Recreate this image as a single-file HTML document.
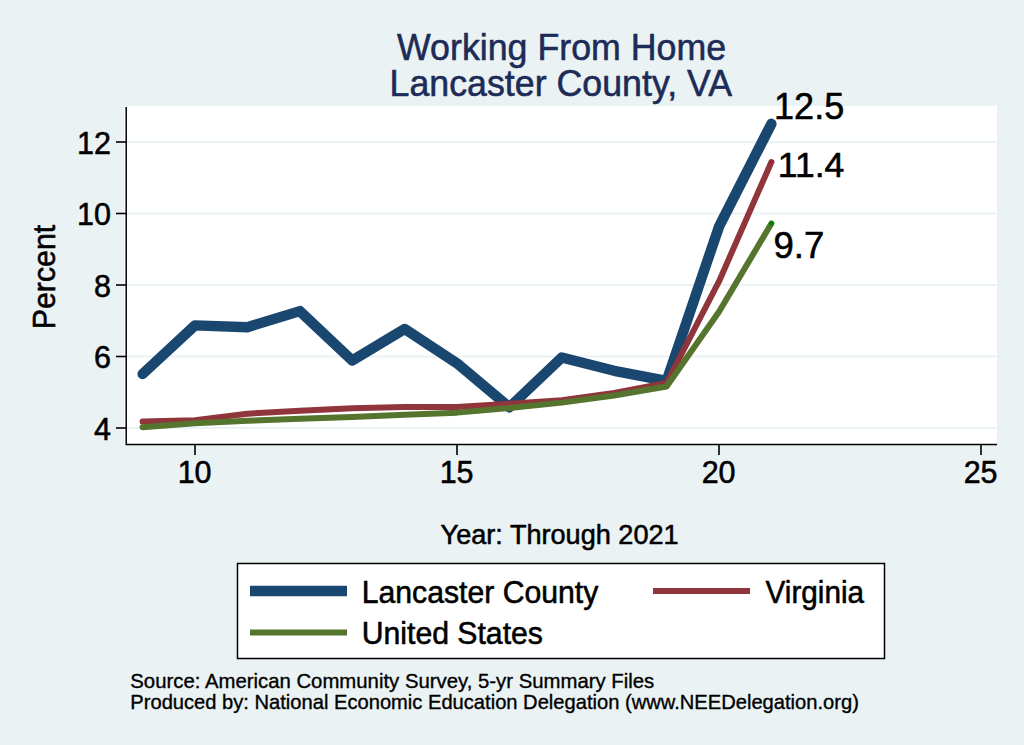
<!DOCTYPE html>
<html><head><meta charset="utf-8"><style>
html,body{margin:0;padding:0;background:#eaf2f3;}
svg{display:block;font-family:"Liberation Sans", sans-serif;}
text{stroke-linejoin:round;}
</style></head><body>
<svg width="1024" height="745" viewBox="0 0 1024 745">
<rect x="0" y="0" width="1024" height="745" fill="#eaf2f3"/>
<rect x="124" y="106" width="873" height="339" fill="#fff"/>
<line x1="127" y1="428.00" x2="997" y2="428.00" stroke="#eaf2f3" stroke-width="2"/>
<line x1="127" y1="356.50" x2="997" y2="356.50" stroke="#eaf2f3" stroke-width="2"/>
<line x1="127" y1="285.00" x2="997" y2="285.00" stroke="#eaf2f3" stroke-width="2"/>
<line x1="127" y1="213.50" x2="997" y2="213.50" stroke="#eaf2f3" stroke-width="2"/>
<line x1="127" y1="142.00" x2="997" y2="142.00" stroke="#eaf2f3" stroke-width="2"/>
<g fill="none" stroke-linecap="round" stroke-linejoin="round">
<polyline points="142.60,374.02 195.00,325.40 247.40,327.19 299.80,311.10 352.20,360.43 404.60,328.97 457.00,363.29 509.40,407.26 561.80,357.57 614.20,370.80 666.60,380.81 719.00,226.73 771.40,123.77" stroke="#1a476f" stroke-width="10.4"/>
<polyline points="142.60,421.56 195.00,420.13 247.40,413.70 299.80,410.84 352.20,408.34 404.60,406.91 457.00,406.91 509.40,403.69 561.80,400.12 614.20,392.96 666.60,382.95 719.00,281.43 771.40,162.02" stroke="#90353b" stroke-width="6"/>
<polyline points="142.60,427.29 195.00,423.35 247.40,420.85 299.80,418.70 352.20,416.92 404.60,414.77 457.00,412.63 509.40,407.98 561.80,402.62 614.20,395.47 666.60,386.53 719.00,311.81 771.40,223.51" stroke="#55752f" stroke-width="6"/>
</g>
<circle cx="771.40" cy="162.02" r="2.2" fill="#a0283a"/>
<circle cx="771.40" cy="223.51" r="2.4" fill="#008000"/>
<path d="M126.2,107 V444.5 H997" fill="none" stroke="#000" stroke-width="1.5"/>
<line x1="116" y1="428.00" x2="126" y2="428.00" stroke="#000" stroke-width="1.6"/>
<text transform="translate(110.90,439.50) scale(1,1.0)" font-size="30.5" text-anchor="end" fill="#000" stroke="#000" stroke-width="0.55">4</text>
<line x1="116" y1="356.50" x2="126" y2="356.50" stroke="#000" stroke-width="1.6"/>
<text transform="translate(110.90,368.00) scale(1,1.0)" font-size="30.5" text-anchor="end" fill="#000" stroke="#000" stroke-width="0.55">6</text>
<line x1="116" y1="285.00" x2="126" y2="285.00" stroke="#000" stroke-width="1.6"/>
<text transform="translate(110.90,296.50) scale(1,1.0)" font-size="30.5" text-anchor="end" fill="#000" stroke="#000" stroke-width="0.55">8</text>
<line x1="116" y1="213.50" x2="126" y2="213.50" stroke="#000" stroke-width="1.6"/>
<text transform="translate(110.90,225.00) scale(1,1.0)" font-size="30.5" text-anchor="end" fill="#000" stroke="#000" stroke-width="0.55">10</text>
<line x1="116" y1="142.00" x2="126" y2="142.00" stroke="#000" stroke-width="1.6"/>
<text transform="translate(110.90,153.50) scale(1,1.0)" font-size="30.5" text-anchor="end" fill="#000" stroke="#000" stroke-width="0.55">12</text>
<line x1="195.00" y1="444" x2="195.00" y2="455" stroke="#000" stroke-width="1.6"/>
<text transform="translate(194.60,483.00) scale(1,1.0)" font-size="30.5" text-anchor="middle" fill="#000" stroke="#000" stroke-width="0.55">10</text>
<line x1="457.00" y1="444" x2="457.00" y2="455" stroke="#000" stroke-width="1.6"/>
<text transform="translate(456.60,483.00) scale(1,1.0)" font-size="30.5" text-anchor="middle" fill="#000" stroke="#000" stroke-width="0.55">15</text>
<line x1="719.00" y1="444" x2="719.00" y2="455" stroke="#000" stroke-width="1.6"/>
<text transform="translate(718.60,483.00) scale(1,1.0)" font-size="30.5" text-anchor="middle" fill="#000" stroke="#000" stroke-width="0.55">20</text>
<line x1="981.00" y1="444" x2="981.00" y2="455" stroke="#000" stroke-width="1.6"/>
<text transform="translate(980.60,483.00) scale(1,1.0)" font-size="30.5" text-anchor="middle" fill="#000" stroke="#000" stroke-width="0.55">25</text>
<text transform="translate(774.10,119.30) scale(1,1.0)" font-size="36" text-anchor="start" fill="#000" stroke="#000" stroke-width="0.55">12.5</text>
<text transform="translate(777.80,177.30) scale(1,1.0)" font-size="35.6" text-anchor="start" fill="#000" stroke="#000" stroke-width="0.55">11.4</text>
<text transform="translate(773.40,258.10) scale(1,1.0)" font-size="36.6" text-anchor="start" fill="#000" stroke="#000" stroke-width="0.55">9.7</text>

<text transform="translate(397.00,60.00) scale(1,1.04)" font-size="35.75" text-anchor="start" fill="#1c2b57" stroke="#1c2b57" stroke-width="0.55">Working From Home</text>
<text transform="translate(389.60,96.00) scale(1,1.04)" font-size="35.75" text-anchor="start" fill="#1c2b57" stroke="#1c2b57" stroke-width="0.55">Lancaster County, VA</text>

<text transform="translate(55.20,329.20) rotate(-90) scale(1,1.03)" font-size="30.3" text-anchor="start" fill="#000" stroke="#000" stroke-width="0.55">Percent</text>
<text transform="translate(440.60,544.00) scale(1,1.03)" font-size="27.1" text-anchor="start" fill="#000" stroke="#000" stroke-width="0.55">Year: Through 2021</text>

<rect x="237.5" y="563.5" width="647" height="95" fill="#fff" stroke="#000" stroke-width="1.5"/>
<line x1="250" y1="591" x2="347" y2="591" stroke="#1a476f" stroke-width="10.4"/>
<line x1="653" y1="591" x2="750" y2="591" stroke="#90353b" stroke-width="6"/>
<line x1="250" y1="632.5" x2="347" y2="632.5" stroke="#55752f" stroke-width="6"/>
<text transform="translate(361.70,602.80) scale(1,1.03)" font-size="30.2" text-anchor="start" fill="#000" stroke="#000" stroke-width="0.55">Lancaster County</text>
<text transform="translate(765.60,602.80) scale(1,1.03)" font-size="29.7" text-anchor="start" fill="#000" stroke="#000" stroke-width="0.55">Virginia</text>
<text transform="translate(361.70,643.60) scale(1,1.03)" font-size="30.2" text-anchor="start" fill="#000" stroke="#000" stroke-width="0.55">United States</text>

<text transform="translate(130.30,688.00) scale(1,1.03)" font-size="20.35" text-anchor="start" fill="#000" stroke="#000" stroke-width="0.35">Source: American Community Survey, 5-yr Summary Files</text>
<text transform="translate(130.30,708.80) scale(1,1.03)" font-size="20.15" text-anchor="start" fill="#000" stroke="#000" stroke-width="0.35">Produced by: National Economic Education Delegation (www.NEEDelegation.org)</text>

</svg>
</body></html>
